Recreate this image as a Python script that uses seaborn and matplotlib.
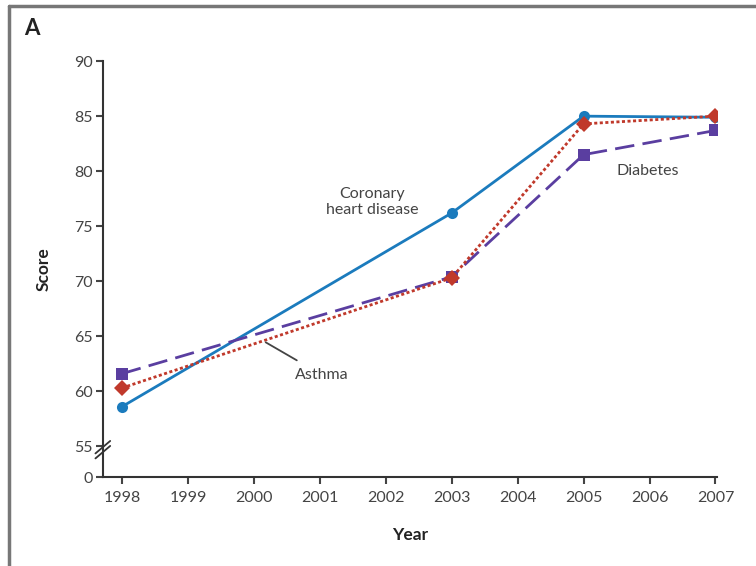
import numpy as np
import pandas as pd
import matplotlib.pyplot as plt
import seaborn as sns
from matplotlib.lines import Line2D

years = [1998, 2003, 2005, 2007]
chd = [58.6, 76.2, 85.0, 84.9]
asthma = [60.3, 70.3, 84.3, 85.0]
diabetes = [61.6, 70.4, 81.5, 83.7]

year_ticks = list(range(1998, 2008))
score_ticks = [55, 60, 65, 70, 75, 80, 85, 90]

# axis break: 0 is drawn a bit below 55
zero_pos = 52.2

sns.set_style("ticks")
plt.rcParams['font.family'] = ['Lato', 'DejaVu Sans']

fig = plt.figure(figsize=(7.56, 5.66), dpi=100)
ax = fig.add_axes([0.136, 0.157, 0.813, 0.735])

blue = "#1b7bbd"
red = "#c0392b"
purple = "#5a3ea0"

sns.lineplot(x=years, y=chd, ax=ax, color=blue, lw=2, marker="o",
             markersize=8, markeredgewidth=0)
sns.lineplot(x=years, y=diabetes, ax=ax, color=purple, lw=2, marker="s",
             markersize=8, markeredgewidth=0, dashes=False)
ax.lines[-1].set_dashes([7, 3])
sns.lineplot(x=years, y=asthma, ax=ax, color=red, lw=2, marker="D",
             markersize=8, markeredgewidth=0)
ax.lines[-1].set_dashes([1.1, 0.9])

ax.set_xlim(1997.71, 2007.03)
ax.set_ylim(zero_pos, 90)
ax.set_xticks(year_ticks)
ax.set_yticks([zero_pos] + score_ticks)
ax.set_yticklabels(["0"] + [str(t) for t in score_ticks])
sns.despine(ax=ax)

for s in ["left", "bottom"]:
    ax.spines[s].set_color("#333333")
    ax.spines[s].set_linewidth(1.5)
ax.tick_params(colors="#444444", labelsize=11.5, width=1.5, length=5)
ax.tick_params(axis="y", pad=2)
ax.tick_params(axis="x", pad=5)

ax.set_xlabel("Year", fontsize=12.5, fontweight="bold", color="#222222", labelpad=16)
ax.set_ylabel("Score", fontsize=12.5, fontweight="bold", color="#222222", labelpad=16)

# break marks on y axis
for dy in (0, 0.012):
    ax.plot([-0.012, 0.012], [0.045 + dy, 0.075 + dy], transform=ax.transAxes,
            color="#333333", lw=1.3, clip_on=False)

txt = "#444444"
ax.text(2001.8, 77.2, "Coronary\nheart disease", ha="center", va="center",
        fontsize=11.5, color=txt, linespacing=1.2)
ax.text(2005.97, 80.0, "Diabetes", ha="center", va="center", fontsize=11.5, color=txt)
ax.annotate("Asthma", xy=(2000.18, 64.45), xytext=(2001.03, 61.5),
            ha="center", va="center", fontsize=11.5, color=txt,
            arrowprops=dict(arrowstyle="-", color="#444444", lw=1.3,
                            shrinkA=6, shrinkB=0))

fig.text(0.032, 0.938, "A", fontsize=16, fontweight="bold", color="#222222")

# panel frame (top and left)
fig.add_artist(Line2D([0.012, 1.0], [0.989, 0.989], color="#777777", lw=2.5))
fig.add_artist(Line2D([0.012, 0.012], [0.0, 0.989], color="#777777", lw=2.5))

fig.savefig("out.png", dpi=100, facecolor="white")
